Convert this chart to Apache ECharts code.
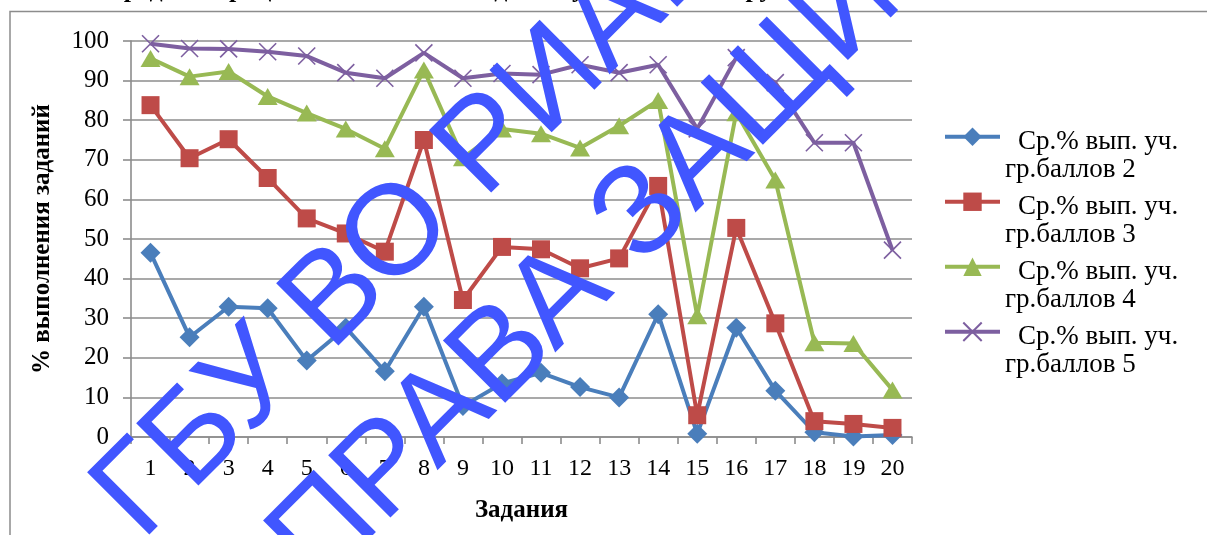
<!DOCTYPE html>
<html>
<head>
<meta charset="utf-8">
<script src="https://cdn.jsdelivr.net/npm/echarts@6/dist/echarts.min.js"></script>
<style>
html,body{margin:0;padding:0;background:#fff;}
#chart{width:1207px;height:535px;}
</style>
</head>
<body>
<div id="chart"></div>
<script>
const categories = ['1','2','3','4','5','6','7','8','9','10','11','12','13','14','15','16','17','18','19','20'];
const seriesNames = ['Ср.% вып. уч. гр.баллов 2','Ср.% вып. уч. гр.баллов 3','Ср.% вып. уч. гр.баллов 4','Ср.% вып. уч. гр.баллов 5'];
const group2 = [46.5, 25.2, 32.9, 32.5, 19.3, 27.6, 16.6, 32.9, 7.8, 13.5, 16.2, 12.6, 10.0, 31.0, 0.8, 27.6, 11.7, 1.2, 0.1, 0.5];
const group3 = [83.8, 70.4, 75.2, 65.4, 55.2, 51.4, 46.8, 75.0, 34.6, 48.0, 47.4, 42.6, 45.1, 63.4, 5.5, 52.8, 28.7, 4.0, 3.3, 2.3];
const group4 = [95.6, 91.0, 92.3, 86.0, 81.8, 77.8, 72.8, 92.7, 70.5, 77.8, 76.6, 73.0, 78.6, 85.0, 30.6, 81.9, 64.9, 23.8, 23.6, 11.9];
const group5 = [99.3, 98.1, 98.0, 97.3, 96.2, 92.0, 90.6, 97.0, 90.6, 91.8, 91.5, 94.0, 92.0, 94.0, 77.8, 95.8, 89.5, 74.3, 74.3, 47.2];
const yTicks = {min: 0, max: 100, interval: 10};
const xAxisTitle = 'Задания';
const yAxisTitle = '% выполнения заданий';
const chartTitle = 'Средний процент выполнения заданий участниками групп по баллам';
const watermark1 = 'ГБУ ВО РИАЦОКО';
const watermark2 = 'ПРАВА ЗАЩИЩЕНЫ';

const serif = '"Liberation Serif", "Times New Roman", serif';
const colors = ['#4A7EBB', '#BE4B48', '#98B954', '#7D5FA0'];
const crossPath = 'path://M0,0L10,10M10,0L0,10';

function mkSeries(name, data, color, symbol, size, extraItem) {
  return {
    name: name, type: 'line', data: data,
    symbol: symbol, symbolSize: size, showAllSymbol: true,
    lineStyle: {color: color, width: 4},
    itemStyle: Object.assign({color: color}, extraItem || {}),
    emphasis: {disabled: true},
    animation: false
  };
}

const chart = echarts.init(document.getElementById('chart'), null, {renderer: 'canvas'});
chart.setOption({
  backgroundColor: '#ffffff',
  animation: false,
  grid: {left: 131, right: 295, top: 41, bottom: 98, containLabel: false},
  xAxis: {
    type: 'category', data: categories, boundaryGap: true,
    name: xAxisTitle, nameLocation: 'middle', nameGap: 61,
    nameTextStyle: {fontFamily: serif, fontSize: 25, fontWeight: 'bold', color: '#000'},
    axisLine: {lineStyle: {color: '#8c8c8c', width: 1.6}},
    axisTick: {show: true, alignWithLabel: false, length: 7, lineStyle: {color: '#8c8c8c', width: 1.6}},
    axisLabel: {fontFamily: serif, fontSize: 24, color: '#000', margin: 20, interval: 0}
  },
  yAxis: {
    type: 'value', min: yTicks.min, max: yTicks.max, interval: yTicks.interval,
    name: yAxisTitle, nameLocation: 'middle', nameGap: 76,
    nameTextStyle: {fontFamily: serif, fontSize: 25, fontWeight: 'bold', color: '#000'},
    axisLine: {show: true, lineStyle: {color: '#8c8c8c', width: 1.6}},
    axisTick: {show: true, length: 8, lineStyle: {color: '#8c8c8c', width: 1.6}},
    axisLabel: {fontFamily: serif, fontSize: 25, color: '#000', margin: 22},
    splitLine: {show: true, lineStyle: {color: '#8c8c8c', width: 1.6}}
  },
  legend: {
    orient: 'vertical', left: 943, top: 89, itemGap: -30.5, padding: 0,
    itemWidth: 55, itemHeight: 23,
    lineStyle: {width: 4},
    data: seriesNames,
    formatter: function (n) { return '{a|' + n.slice(0, 13) + '}\n{b|' + n.slice(14) + '}'; },
    textStyle: {
      fontFamily: serif, fontSize: 27, color: '#000', lineHeight: 28.5, padding: [38.5, 0, 0, 0],
      rich: {
        a: {fontFamily: serif, fontSize: 27, color: '#000', lineHeight: 28.5, padding: [0, 0, 0, 13]},
        b: {fontFamily: serif, fontSize: 27, color: '#000', lineHeight: 28.5}
      }
    }
  },
  series: [
    mkSeries(seriesNames[0], group2, colors[0], 'diamond', 20),
    mkSeries(seriesNames[1], group3, colors[1], 'rect', 18),
    mkSeries(seriesNames[2], group4, colors[2], 'triangle', [20, 17]),
    mkSeries(seriesNames[3], group5, colors[3], crossPath, 17, {borderColor: colors[3], borderWidth: 1.6})
  ],
  graphic: [
    {type: 'rect', z: 1, silent: true, shape: {x: 10, y: 11.5, width: 1300, height: 600},
     style: {fill: 'none', stroke: '#8c8c8c', lineWidth: 1.5}},
    {type: 'text', z: 1, silent: true, x: 105, y: 3,
     style: {text: chartTitle, font: 'bold 26px ' + serif, fill: '#000', align: 'left', verticalAlign: 'bottom'}},
    {type: 'text', z: 100, silent: true, x: 117, y: 517, rotation: Math.PI / 4,
     style: {text: watermark1, font: '128px "Liberation Sans", Arial, sans-serif', fill: '#4156FF', align: 'left', verticalAlign: 'middle'}},
    {type: 'text', z: 100, silent: true, x: 293, y: 565, rotation: Math.PI / 4,
     style: {text: watermark2, font: '128px "Liberation Sans", Arial, sans-serif', fill: '#4156FF', align: 'left', verticalAlign: 'middle'}}
  ]
});
</script>
</body>
</html>
